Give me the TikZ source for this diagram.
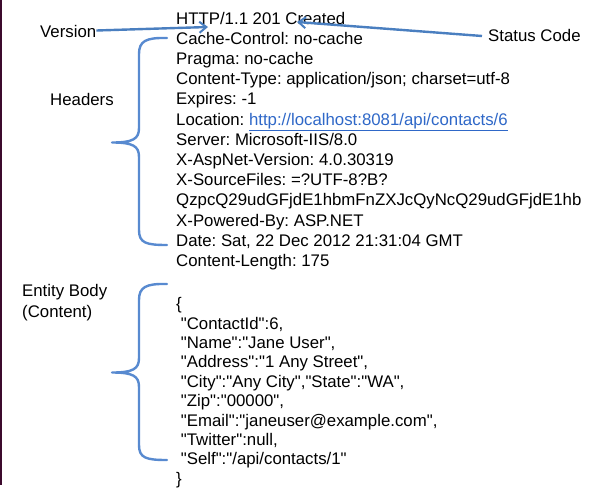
\documentclass[tikz,border=0pt]{standalone}
\usepackage{fontspec}
\setmainfont{Liberation Sans}[Ligatures=TeXOff]
\frenchspacing
\usetikzlibrary{arrows.meta}
\definecolor{callout}{RGB}{74,127,192}
\definecolor{bracecol}{RGB}{88,138,208}
\definecolor{linkblue}{RGB}{47,104,200}
\definecolor{edge}{RGB}{60,10,45}
\tikzset{
  msg/.style={anchor=base west, inner sep=0pt, font=\fontsize{16.8}{20}\selectfont},
  lbl/.style={anchor=base west, inner sep=0pt, font=\fontsize{16.8}{20}\selectfont},
  callarrow/.style={draw=callout, line width=2.4pt, -{Straight Barb[length=7pt,width=11pt,line width=2pt]}},
  bracket/.style={draw=bracecol, line width=2.4pt, line cap=round, line join=round}
}
\begin{document}
\begin{tikzpicture}[x=1pt,y=-1pt]
\useasboundingbox (0,0) rectangle (601,491);
\fill[white] (0,0) rectangle (601,491);
% left frame edge
\draw[edge, line width=2pt] (1,0) -- (1,485);

% response header lines
\node[msg] (l1)  at (176,24.0)  {HTTP/1.1 201 Created};
\node[msg] (l2)  at (176,44.2)  {Cache-Control: no-cache};
\node[msg] (l3)  at (176,64.4)  {Pragma: no-cache};
\node[msg] (l4)  at (176,84.6)  {Content-Type: application/json; charset=utf-8};
\node[msg] (l5)  at (176,104.8) {Expires: -1};
\node[msg] (l6)  at (176,125.0) {Location: \textcolor{linkblue}{\underline{http://localhost:8081/api/contacts/6}}};
\node[msg] (l7)  at (176,145.2) {Server: Microsoft-IIS/8.0};
\node[msg] (l8)  at (176,165.4) {X-AspNet-Version: 4.0.30319};
\node[msg] (l9)  at (176,185.6) {X-SourceFiles: =?UTF-8?B?};
\node[msg] (l10) at (176,205.8) {QzpcQ29udGFjdE1hbmFnZXJcQyNcQ29udGFjdE1hb};
\node[msg] (l11) at (176,226.0) {X-Powered-By: ASP.NET};
\node[msg] (l12) at (176,246.2) {Date: Sat, 22 Dec 2012 21:31:04 GMT};
\node[msg] (l13) at (176,266.4) {Content-Length: 175};

% entity body lines
\node[msg] (b0) at (176,309.6) {\{};
\node[msg] (b1) at (176,329.0) {\ "ContactId":6,};
\node[msg] (b2) at (176,348.4) {\ "Name":"Jane User",};
\node[msg] (b3) at (176,367.8) {\ "Address":"1 Any Street",};
\node[msg] (b4) at (176,387.2) {\ "City":"Any City","State":"WA",};
\node[msg] (b5) at (176,406.6) {\ "Zip":"00000",};
\node[msg] (b6) at (176,426.0) {\ "Email":"janeuser@example.com",};
\node[msg] (b7) at (176,445.4) {\ "Twitter":null,};
\node[msg] (b8) at (176,464.8) {\ "Self":"/api/contacts/1"};
\node[msg] (b9) at (176,484.2) {\}};

% side labels
\node[lbl] (version) at (40,37)  {Version};
\node[lbl] (status)  at (488,41) {Status Code};
\node[lbl] (headers) at (50,105.5) {Headers};
\node[lbl] (entity)  at (22,296) {Entity Body};
\node[lbl] (content) at (22,317) {(Content)};

% callout arrows
\coordinate (vtip) at (208,27);
\coordinate (stip) at (297,22);
\draw[callarrow] (version.east) ++(0,-0.5) -- (vtip);
\draw[callarrow] ([xshift=-6pt,yshift=-1pt]status.west) -- (stip);

% brace for the header block
\draw[bracket] (167,38) .. controls (146,37.5) and (139,41) .. (139,54)
  -- (139,128) .. controls (139,139) and (133,142.5) .. (112,142.5)
  .. controls (133,142.5) and (139,146) .. (139,157)
  -- (139,230) .. controls (139,243) and (146,245) .. (167,245);

% brace for the entity body
\draw[bracket] (167,284) .. controls (146,283.5) and (139,287) .. (139,300)
  -- (139,358) .. controls (139,369) and (133,372.5) .. (112,372.5)
  .. controls (133,372.5) and (139,376) .. (139,387)
  -- (139,445) .. controls (139,458) and (146,460) .. (167,460);
\end{tikzpicture}
\end{document}
